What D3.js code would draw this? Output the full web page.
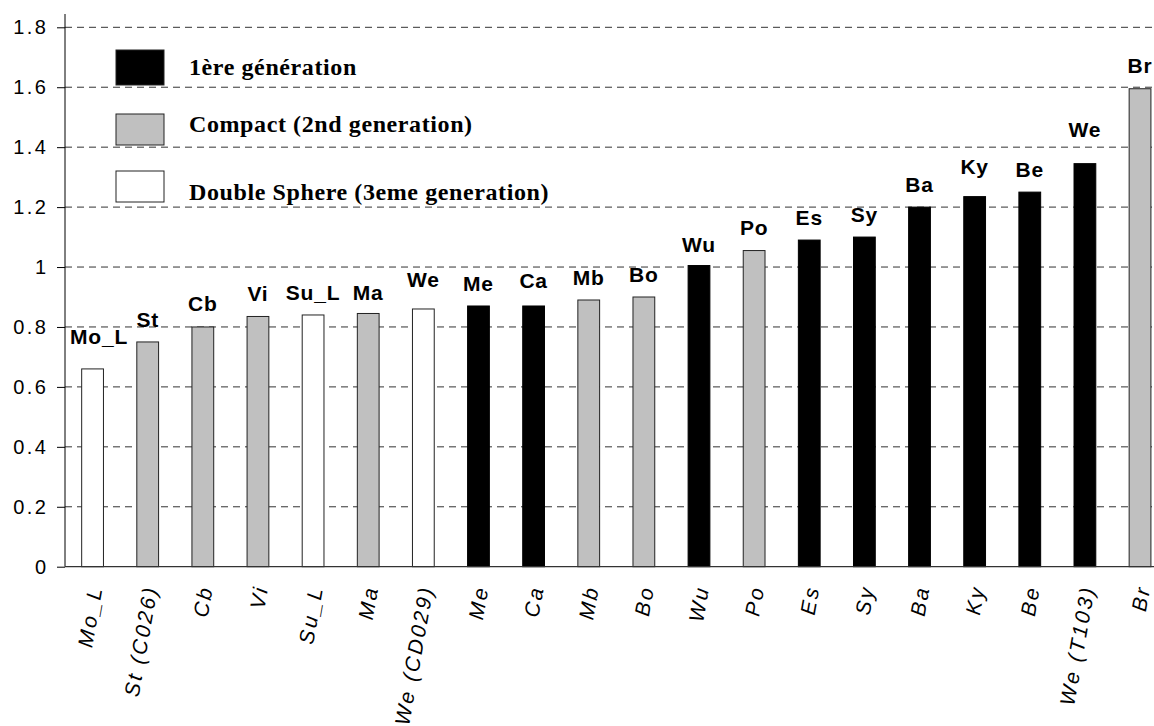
<!DOCTYPE html>
<html>
<head>
<meta charset="utf-8">
<script src="https://cdn.jsdelivr.net/npm/d3@7/dist/d3.min.js"></script>
<style>
  html, body { margin: 0; padding: 0; background: #fff; }
  svg { display: block; }
</style>
</head>
<body>
<script>
// ---- data ----
const categories = ["Mo_L","St (C026)","Cb","Vi","Su_L","Ma","We (CD029)","Me","Ca","Mb","Bo","Wu","Po","Es","Sy","Ba","Ky","Be","We (T103)","Br"];
const barLabels  = ["Mo_L","St","Cb","Vi","Su_L","Ma","We","Me","Ca","Mb","Bo","Wu","Po","Es","Sy","Ba","Ky","Be","We","Br"];
const values     = [0.66,0.75,0.80,0.835,0.84,0.845,0.86,0.87,0.87,0.89,0.90,1.005,1.055,1.09,1.10,1.20,1.235,1.25,1.345,1.595];
const generation = [3,2,2,2,3,2,3,1,1,2,2,1,2,1,1,1,1,1,1,2];
const yTicks     = [0,0.2,0.4,0.6,0.8,1,1.2,1.4,1.6,1.8];
const legendLabels = ["1ère génération","Compact (2nd generation)","Double Sphere (3eme generation)"];
const legendGens   = [1,2,3];

// ---- layout / style ----
const W = 1154, H = 726;
const plotLeft = 65, step = 55.13, plotBottom = 566.7, plotTop = 27.3, axisTop = 14;
const fills = {1: "#000000", 2: "#c0c0c0", 3: "#ffffff"};
const labelLift = [10,0,1,0,0,-2,7,0,3,0,0,-1,1,0,0,0,8,0,12,1];

const svg = d3.select("body").append("svg").attr("width", W).attr("height", H);

const x = d3.scaleBand().domain(d3.range(categories.length))
  .range([plotLeft, plotLeft + step * categories.length]).padding(0);
const y = d3.scaleLinear().domain([0, 1.8]).range([plotBottom, plotTop]);
const barW = x.bandwidth() * 0.395;

// gridlines
svg.append("g").selectAll("line").data(yTicks.filter(d => d > 0)).join("line")
  .attr("x1", plotLeft).attr("x2", W)
  .attr("y1", d => y(d)).attr("y2", d => y(d))
  .attr("stroke", "#333").attr("stroke-width", 1).attr("stroke-dasharray", "7,5");

// y axis
const yAxis = d3.axisLeft(y).tickValues(yTicks).tickSize(8).tickPadding(11)
  .tickFormat(d => d3.format("")(+d.toFixed(1)));
const ya = svg.append("g").attr("transform", `translate(${plotLeft},0)`).call(yAxis);
ya.select(".domain").remove();
ya.selectAll(".tick line").attr("stroke", "#000");
ya.selectAll(".tick text").attr("font-family", "Liberation Sans, Arial, sans-serif")
  .attr("font-size", 20).attr("fill", "#000").attr("letter-spacing", "2.5px").attr("dx", "2.5px");
svg.append("line").attr("x1", plotLeft).attr("x2", plotLeft).attr("y1", axisTop).attr("y2", plotBottom)
  .attr("stroke", "#000");

// bars
svg.append("g").selectAll("rect").data(values).join("rect")
  .attr("x", (d, i) => x(i) + x.bandwidth() / 2 - barW / 2)
  .attr("y", d => y(d))
  .attr("width", barW)
  .attr("height", d => plotBottom - y(d))
  .attr("fill", (d, i) => fills[generation[i]])
  .attr("stroke", (d, i) => generation[i] === 1 ? "#000" : "#222")
  .attr("stroke-width", 1);

// baseline
svg.append("line").attr("x1", plotLeft).attr("x2", W).attr("y1", plotBottom).attr("y2", plotBottom)
  .attr("stroke", "#333").attr("stroke-width", 1.2);

// bar value labels
const bl = svg.append("g").selectAll("text").data(values).join("text")
  .attr("font-family", "Liberation Sans, Arial, sans-serif")
  .attr("font-weight", "bold").attr("font-size", 21).attr("letter-spacing", "0.8px")
  .attr("text-anchor", "middle")
  .attr("y", (d, i) => y(d) - 15 - labelLift[i])
  .text((d, i) => barLabels[i]);
bl.attr("x", function(d, i) {
  const cx = x(i) + x.bandwidth() / 2;
  const half = this.getComputedTextLength() / 2;
  return Math.max(cx, plotLeft + 5 + half);
});

// x category labels
svg.append("g").selectAll("text").data(categories).join("text")
  .attr("font-family", "Liberation Sans, Arial, sans-serif")
  .attr("font-style", "italic").attr("font-size", 21).attr("letter-spacing", "2.5px")
  .attr("text-anchor", "end").attr("dy", "0.35em")
  .attr("transform", (d, i) => `translate(${x(i) + x.bandwidth() / 2 + 3},${plotBottom + 19}) rotate(-80)`)
  .text(d => d);

// legend
const legRows = [
  {sy: 50, sh: 35, ty: 75},
  {sy: 114, sh: 31, ty: 131.7},
  {sy: 171, sh: 31, ty: 199.5}
];
const lg = svg.append("g");
legendGens.forEach((g, i) => {
  lg.append("rect").attr("x", 116).attr("y", legRows[i].sy).attr("width", 48).attr("height", legRows[i].sh)
    .attr("fill", fills[g]).attr("stroke", "#222").attr("stroke-width", 1);
  lg.append("text").attr("x", 189).attr("y", legRows[i].ty)
    .attr("font-family", "Liberation Serif, Times New Roman, serif")
    .attr("font-weight", "bold").attr("font-size", 24).attr("letter-spacing", "0.6px")
    .text(legendLabels[i]);
});
</script>
</body>
</html>
